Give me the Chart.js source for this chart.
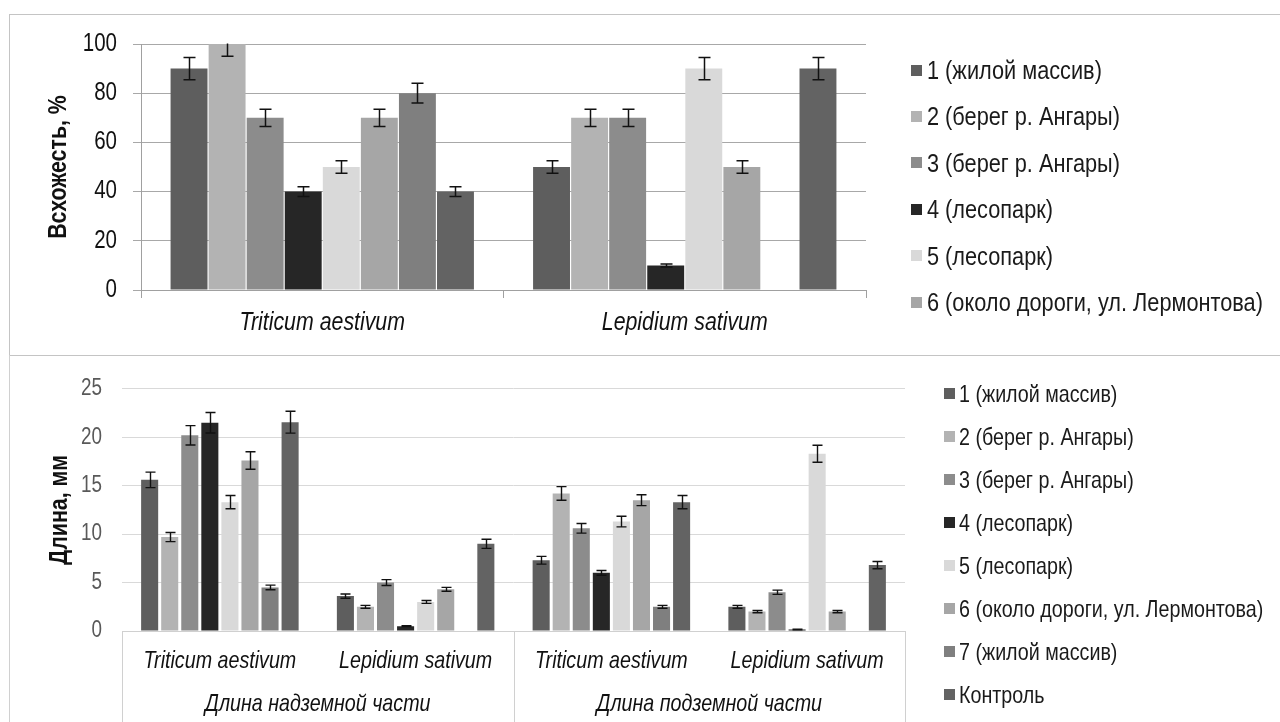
<!DOCTYPE html>
<html><head><meta charset="utf-8">
<script src="https://cdn.jsdelivr.net/npm/chart.js@4.4.1/dist/chart.umd.min.js"></script>
<style>
html,body{margin:0;padding:0;background:#fff;width:1280px;height:722px;overflow:hidden;position:relative;}
canvas{position:absolute;left:0;}
#cTop{top:0;}
#cBot{top:355px;}
.frame{position:absolute;pointer-events:none;box-sizing:border-box;}
.leg{position:absolute;white-space:nowrap;font-family:'Liberation Sans',Arial,sans-serif;color:#1a1a1a;transform:scaleX(0.82);transform-origin:0 50%;}
.sw{position:absolute;}
</style>
</head><body>
<canvas id="cTop" width="1280" height="355"></canvas>
<canvas id="cBot" width="1280" height="367"></canvas>
<div class="frame" style="left:9px;top:14px;width:1290px;height:342px;border:1px solid #c4c4c4;"></div>
<div class="frame" style="left:9px;top:355px;width:1px;height:367px;background:#d0d0d0;"></div>
<div id="legTop"></div>
<div id="legBot"></div>
<script>
// ---- data ----
const seriesLabels = ['1 (жилой массив)', '2 (берег р. Ангары)', '3 (берег р. Ангары)', '4 (лесопарк)', '5 (лесопарк)', '6 (около дороги, ул. Лермонтова)', '7 (жилой массив)', 'Контроль'];
const seriesColors = ['#5e5e5e', '#b3b3b3', '#8c8c8c', '#262626', '#d9d9d9', '#a6a6a6', '#7f7f7f', '#636363'];

// Top chart: germination, %
const topCategories = ['Triticum aestivum', 'Lepidium sativum'];
const germ1 = [90, 50];   const germErr1 = [4.5, 2.5];
const germ2 = [100, 70];  const germErr2 = [5, 3.5];
const germ3 = [70, 70];   const germErr3 = [3.5, 3.5];
const germ4 = [40, 10];   const germErr4 = [2, 0.6];
const germ5 = [50, 90];   const germErr5 = [2.5, 4.5];
const germ6 = [70, 50];   const germErr6 = [3.5, 2.5];
const germ7 = [80, null]; const germErr7 = [4, null];
const germ8 = [40, 90];   const germErr8 = [2, 4.5];
const topTicks = [0, 20, 40, 60, 80, 100];

// Bottom chart: length, mm
const botCategories = ['Triticum aestivum', 'Lepidium sativum', 'Triticum aestivum', 'Lepidium sativum'];
const botGroups = ['Длина надземной части', 'Длина подземной части'];
const len1 = [15.6, 3.6, 7.3, 2.5];     const lenErr1 = [0.8, 0.22, 0.4, 0.15];
const len2 = [9.7, 2.5, 14.2, 2.0];     const lenErr2 = [0.47, 0.15, 0.7, 0.12];
const len3 = [20.2, 5.0, 10.6, 4.0];    const lenErr3 = [1.0, 0.3, 0.5, 0.22];
const len4 = [21.5, 0.5, 6.0, 0.15];    const lenErr4 = [1.06, 0.05, 0.25, 0.03];
const len5 = [13.3, 3.0, 11.3, 18.3];   const lenErr5 = [0.68, 0.15, 0.55, 0.88];
const len6 = [17.6, 4.3, 13.5, 2.0];    const lenErr6 = [0.9, 0.2, 0.56, 0.12];
const len7 = [4.5, null, 2.5, null];    const lenErr7 = [0.24, null, 0.15, null];
const len8 = [21.55, 9.0, 13.3, 6.8];   const lenErr8 = [1.13, 0.47, 0.68, 0.38];
const botTicks = [0, 5, 10, 15, 20, 25];

const topSeries = [germ1, germ2, germ3, germ4, germ5, germ6, germ7, germ8];
const topErrors = [germErr1, germErr2, germErr3, germErr4, germErr5, germErr6, germErr7, germErr8];
const botSeries = [len1, len2, len3, len4, len5, len6, len7, len8];
const botErrors = [lenErr1, lenErr2, lenErr3, lenErr4, lenErr5, lenErr6, lenErr7, lenErr8];

// ---- style ----
const SANS = "'Liberation Sans',Arial,sans-serif";
const NARROW_SCALE = 0.82; // emulate Arial Narrow with horizontally condensed Liberation Sans

// condense canvas text around its anchor point
function condenseText(canvas) {
  const ctx = canvas.getContext('2d');
  const orig = ctx.fillText.bind(ctx);
  ctx.fillText = function (text, x, y) {
    this.save();
    this.translate(x, y);
    this.scale(NARROW_SCALE, 1);
    orig(text, 0, 0);
    this.restore();
  };
}

const errorBars = {
  id: 'errorBars',
  afterDatasetsDraw(chart, args, opts) {
    const {ctx, chartArea} = chart;
    const ys = chart.scales.y;
    ctx.save();
    ctx.beginPath();
    ctx.rect(chartArea.left, chartArea.top - 0.5, chartArea.width, chartArea.height + 1);
    ctx.clip();
    ctx.strokeStyle = opts.color || '#111';
    ctx.lineWidth = opts.lineWidth || 1.5;
    chart.data.datasets.forEach((ds, di) => {
      const meta = chart.getDatasetMeta(di);
      meta.data.forEach((bar, i) => {
        const v = ds.data[i], e = ds.errors ? ds.errors[i] : null;
        if (v == null || e == null) return;
        const x = Math.round(bar.x) + 0.5;
        const y1 = ys.getPixelForValue(v + e), y2 = ys.getPixelForValue(v - e);
        const c = opts.cap;
        ctx.beginPath();
        ctx.moveTo(x, y1); ctx.lineTo(x, y2);
        ctx.moveTo(x - c, y1); ctx.lineTo(x + c, y1);
        ctx.moveTo(x - c, y2); ctx.lineTo(x + c, y2);
        ctx.stroke();
      });
    });
    ctx.restore();
  }
};

const tableLines = {
  id: 'tableLines',
  afterDraw(chart) {
    const {ctx} = chart;
    const x = chart.scales.x;
    const mid = (x.getPixelForTick(1) + x.getPixelForTick(2)) / 2;
    ctx.save();
    ctx.strokeStyle = '#d0d0d0';
    ctx.lineWidth = 1;
    [x.left, mid, x.right].forEach(px => {
      const p = Math.round(px) + 0.5;
      ctx.beginPath(); ctx.moveTo(p, x.top); ctx.lineTo(p, chart.height); ctx.stroke();
    });
    ctx.restore();
  }
};

const cTop = document.getElementById('cTop');
const cBot = document.getElementById('cBot');
condenseText(cTop);
condenseText(cBot);

// ---- top chart ----
new Chart(cTop, {
  type: 'bar',
  data: {
    labels: topCategories,
    datasets: topSeries.map((d, i) => ({
      label: seriesLabels[i], data: d, errors: topErrors[i],
      backgroundColor: seriesColors[i], borderWidth: 0,
      categoryPercentage: 0.84, barPercentage: 0.97
    }))
  },
  options: {
    responsive: false, animation: false, devicePixelRatio: 1,
    layout: {padding: {top: 44, right: 414, bottom: 0, left: 0}},
    plugins: {
      legend: {display: false}, tooltip: {enabled: false},
      errorBars: {cap: 6, lineWidth: 1.5, color: '#111'}
    },
    scales: {
      x: {
        afterFit(s) { s.height = 65; },
        grid: {display: true, drawOnChartArea: false, drawTicks: true, tickLength: 8, color: '#a0a0a0', offset: true},
        border: {display: true, color: '#a0a0a0', width: 1},
        ticks: {padding: 9, color: '#111', maxRotation: 0, autoSkip: false,
          font: {family: SANS, size: 26, style: 'italic'}}
      },
      y: {
        min: 0, max: 100,
        afterFit(s) { s.width = 141; },
        afterBuildTicks(s) { s.ticks = topTicks.map(v => ({value: v})); },
        grid: {color: '#a8a8a8', tickLength: 8, drawTicks: true},
        border: {display: true, color: '#a0a0a0'},
        ticks: {padding: 16, color: '#111', font: {family: SANS, size: 25}},
        title: {display: true, text: 'Всхожесть, %', color: '#111',
          font: {family: SANS, size: 26, weight: 'bold'}, padding: {top: 43, bottom: 0}}
      }
    }
  },
  plugins: [errorBars]
});

// ---- bottom chart ----
new Chart(cBot, {
  type: 'bar',
  data: {
    labels: botCategories,
    datasets: botSeries.map((d, i) => ({
      label: seriesLabels[i], data: d, errors: botErrors[i],
      backgroundColor: seriesColors[i], borderWidth: 0,
      categoryPercentage: 0.82, barPercentage: 0.85
    }))
  },
  options: {
    responsive: false, animation: false, devicePixelRatio: 1,
    layout: {padding: {top: 29, right: 375, bottom: 0, left: 0}},
    plugins: {
      legend: {display: false}, tooltip: {enabled: false},
      errorBars: {cap: 5, lineWidth: 1.4, color: '#111'}
    },
    scales: {
      x: {
        weight: 0,
        afterFit(s) { s.height = 50; },
        grid: {display: false, drawTicks: false},
        border: {display: true, color: '#d0d0d0'},
        ticks: {padding: 16, color: '#111', maxRotation: 0, autoSkip: false,
          font: {family: SANS, size: 24, style: 'italic'}}
      },
      x2: {
        type: 'category', position: 'bottom', weight: 1,
        labels: botGroups, offset: true,
        afterFit(s) { s.height = 41; },
        grid: {display: false, drawTicks: false}, border: {display: false},
        ticks: {padding: 9, color: '#111', maxRotation: 0, autoSkip: false,
          font: {family: SANS, size: 24, style: 'italic'}}
      },
      y: {
        min: 0, max: 25,
        afterFit(s) { s.width = 122; },
        afterBuildTicks(s) { s.ticks = botTicks.map(v => ({value: v})); },
        grid: {color: '#d9d9d9', drawTicks: false},
        border: {display: false},
        ticks: {padding: 20, color: '#595959', font: {family: SANS, size: 23}},
        title: {display: true, text: 'Длина, мм', color: '#111',
          font: {family: SANS, size: 26, weight: 'bold'}, padding: {top: 44, bottom: 0}}
      }
    }
  },
  plugins: [errorBars, tableLines]
});

// ---- HTML legends ----
function buildLegend(id, count, opts) {
  const host = document.getElementById(id);
  for (let i = 0; i < count; i++) {
    const cy = opts.y0 + opts.step * i;
    const sw = document.createElement('div');
    sw.className = 'sw';
    sw.style.cssText = `left:${opts.boxX}px;top:${Math.round(cy - opts.box / 2)}px;width:${opts.box}px;height:${opts.box}px;background:${seriesColors[i]};`;
    host.appendChild(sw);
    const t = document.createElement('div');
    t.className = 'leg';
    t.textContent = seriesLabels[i];
    const lh = Math.round(opts.size * 1.2);
    t.style.cssText = `left:${opts.textX}px;top:${Math.round(cy - lh / 2)}px;font-size:${opts.size}px;line-height:${lh}px;`;
    host.appendChild(t);
  }
}
buildLegend('legTop', 6, {y0: 70, step: 46.4, boxX: 911, box: 11, textX: 927, size: 26.5});
buildLegend('legBot', 8, {y0: 393, step: 43.1, boxX: 944, box: 11, textX: 959, size: 24});
</script>
</body></html>
